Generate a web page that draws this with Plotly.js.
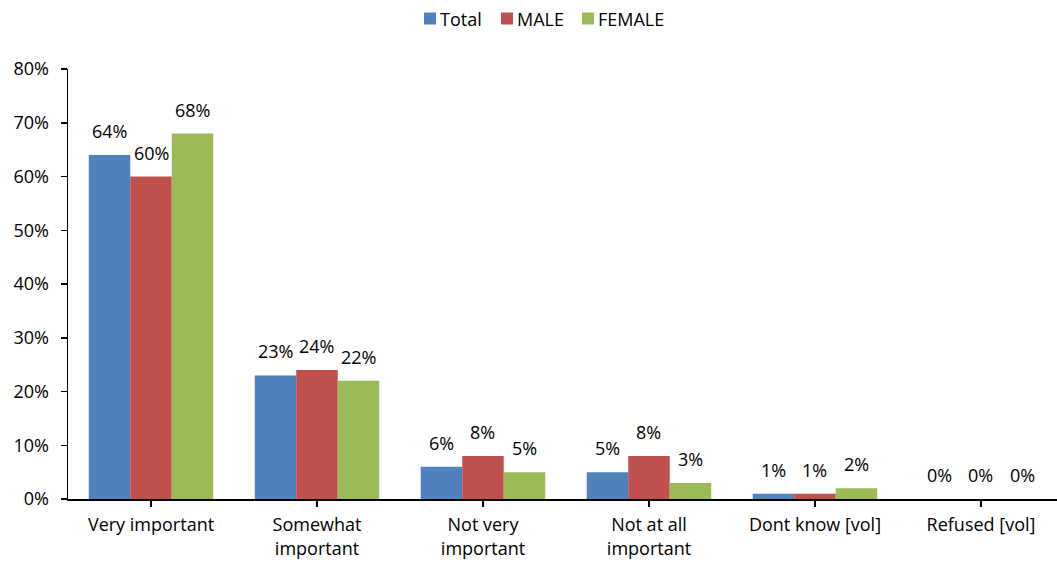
<!DOCTYPE html>
<html>
<head>
<meta charset="utf-8">
<script src="https://cdn.plot.ly/plotly-3.0.1.min.js"></script>
<style>html,body{margin:0;padding:0;background:#fff;}#chart{width:1057px;height:562px;}</style>
</head>
<body>
<div id="chart"></div>
<script>
const categories = ["Very important", "Somewhat<br>important", "Not very<br>important", "Not at all<br>important", "Dont know [vol]", "Refused [vol]"];
const seriesNames = ["Total", "MALE", "FEMALE"];
const totalValues = [64, 23, 6, 5, 1, 0];
const maleValues = [60, 24, 8, 8, 1, 0];
const femaleValues = [68, 22, 5, 3, 2, 0];
const seriesColors = ["#4F81BD", "#C0504D", "#9BBB59"];
const yTickVals = [0, 10, 20, 30, 40, 50, 60, 70, 80];

const FONT = "'Open Sans', Lato, 'Liberation Sans', sans-serif";
const FS = 18;
const allValues = [totalValues, maleValues, femaleValues];
const xIdx = categories.map((c, i) => i);

const W = 1057, H = 562;
const M = { l: 68, r: 0, t: 69, b: 63 };
const plotW = W - M.l - M.r, plotH = H - M.t - M.b;
const pxToPaperX = px => (px - M.l) / plotW;
const pxToPaperY = py => (H - M.b - py) / plotH;

const traces = allValues.map((vals, s) => ({
  type: "bar",
  name: seriesNames[s],
  x: xIdx,
  y: vals,
  marker: { color: seriesColors[s], line: { width: 0 } },
  hoverinfo: "skip",
  showlegend: false
}));

const annotations = [];
const shapes = [];
const groupFrac = 0.75;
const barW = groupFrac / 3;
allValues.forEach((vals, s) => {
  vals.forEach((v, i) => {
    annotations.push({
      x: i + (s - 1) * barW,
      y: v,
      xref: "x", yref: "y",
      text: v + "%",
      showarrow: false,
      yanchor: "middle",
      yshift: 24,
      font: { family: FONT, size: FS, color: "#000" }
    });
  });
});

// legend (swatch + label) laid out like the reference
const legendSwatchLeft = [424, 501, 582];
seriesNames.forEach((name, s) => {
  const x0 = legendSwatchLeft[s];
  shapes.push({
    type: "rect", xref: "paper", yref: "paper",
    x0: pxToPaperX(x0), x1: pxToPaperX(x0 + 12),
    y0: pxToPaperY(24.5), y1: pxToPaperY(12.5),
    fillcolor: seriesColors[s], line: { width: 0 }
  });
  annotations.push({
    xref: "paper", yref: "paper",
    x: pxToPaperX(x0 + 14), y: pxToPaperY(18.5),
    xanchor: "left", yanchor: "middle",
    text: name, showarrow: false,
    font: { family: FONT, size: FS, color: "#000" }
  });
});

const layout = {
  width: W, height: H,
  margin: M,
  paper_bgcolor: "#fff", plot_bgcolor: "#fff",
  barmode: "group",
  bargap: 0.25, bargroupgap: 0,
  font: { family: FONT, size: FS, color: "#000" },
  showlegend: false,
  xaxis: {
    range: [-0.5, 5.458],
    tickmode: "array", tickvals: xIdx, ticktext: categories,
    tickson: "boundaries",
    ticks: "outside", ticklen: 6, tickcolor: "#000", tickwidth: 1.5,
    ticklabelstandoff: 3,
    showline: true, linecolor: "#000", linewidth: 1.5,
    showgrid: false, zeroline: false,
    tickfont: { family: FONT, size: FS, color: "#000" },
    fixedrange: true
  },
  yaxis: {
    range: [0, 80],
    tickmode: "array", tickvals: yTickVals, ticktext: yTickVals.map(v => v + "%"),
    ticks: "outside", ticklen: 6, tickcolor: "#000", tickwidth: 1.5,
    ticklabelstandoff: 8,
    showline: true, linecolor: "#000", linewidth: 1.5,
    showgrid: false, zeroline: false,
    tickfont: { family: FONT, size: FS, color: "#000" },
    fixedrange: true
  },
  shapes: shapes,
  annotations: annotations
};

Plotly.newPlot("chart", traces, layout, { displayModeBar: false, staticPlot: true });
</script>
</body>
</html>
